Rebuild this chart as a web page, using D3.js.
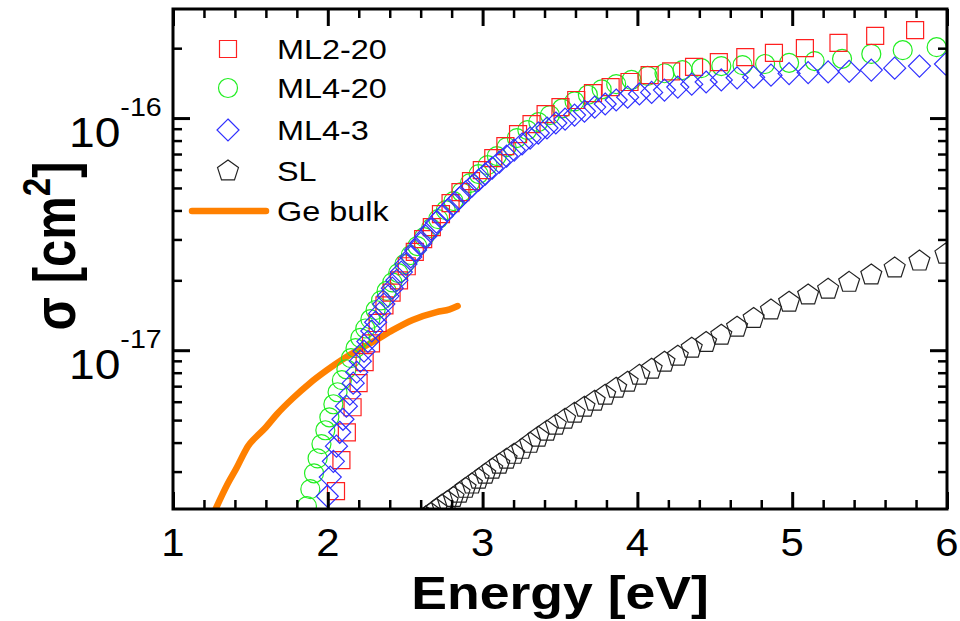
<!DOCTYPE html>
<html><head><meta charset="utf-8">
<script src="https://cdn.jsdelivr.net/npm/d3@7"></script>
<style>body{margin:0;background:#fff}svg{display:block}text{font-family:"Liberation Sans",Arial,sans-serif}</style>
</head><body><svg id="c" width="960" height="621"></svg>
<script>
// ---------- data ----------
const seriesNames = ["ML2-20","ML4-20","ML4-3","SL","Ge bulk"];
const xTickValues = [1,2,3,4,5,6];
const yTickExponents = [-17,-16];

const energyML220 = [5.794,5.536,5.299,5.082,4.882,4.697,4.526,4.366,4.218,4.079,3.949,3.827,3.713,3.605,3.503,3.407,3.316,3.229,3.147,3.069,2.995,2.925,2.857,2.793,2.731,2.672,2.616,2.562,2.510,2.460,2.412,2.366,2.322,2.279,2.238,2.199,2.160,2.123,2.088,2.053];
const sigmaML220 = [2.39e-16,2.26e-16,2.11e-16,2.00e-16,1.91e-16,1.83e-16,1.74e-16,1.66e-16,1.59e-16,1.53e-16,1.43e-16,1.36e-16,1.28e-16,1.196e-16,1.115e-16,1.04e-16,9.42e-17,8.53e-17,7.57e-17,6.72e-17,5.97e-17,5.35e-17,4.80e-17,4.30e-17,3.86e-17,3.39e-17,3.01e-17,2.65e-17,2.30e-17,2.00e-17,1.77e-17,1.56e-17,1.31e-17,1.07e-17,8.88e-18,7.21e-18,5.68e-18,4.43e-18,3.36e-18,2.47e-18];

const energyML420 = [5.933,5.714,5.511,5.322,5.145,4.980,4.825,4.679,4.542,4.413,4.291,4.175,4.066,3.962,3.863,3.769,3.680,3.594,3.513,3.435,3.360,3.289,3.221,3.155,3.092,3.032,2.974,2.918,2.864,2.812,2.762,2.713,2.667,2.622,2.578,2.536,2.495,2.455,2.417,2.380,2.344,2.309,2.275,2.242,2.210,2.179,2.149,2.120,2.091,2.063,2.036,2.010,1.984,1.959,1.934,1.911,1.887,1.865];
const sigmaML420 = [2.02e-16,1.96e-16,1.89e-16,1.80e-16,1.76e-16,1.73e-16,1.71e-16,1.69e-16,1.675e-16,1.64e-16,1.61e-16,1.56e-16,1.52e-16,1.46e-16,1.40e-16,1.33e-16,1.26e-16,1.18e-16,1.10e-16,1.03e-16,9.61e-17,8.88e-17,8.20e-17,7.50e-17,6.86e-17,6.27e-17,5.74e-17,5.25e-17,4.80e-17,4.39e-17,4.01e-17,3.67e-17,3.36e-17,3.07e-17,2.81e-17,2.57e-17,2.35e-17,2.15e-17,1.96e-17,1.80e-17,1.64e-17,1.49e-17,1.36e-17,1.24e-17,1.13e-17,1.02e-17,9.24e-18,8.28e-18,7.43e-18,6.59e-18,5.85e-18,5.14e-18,4.52e-18,3.94e-18,3.42e-18,2.95e-18,2.52e-18,2.13e-18];

const energyML43 = [5.990,5.822,5.662,5.511,5.368,5.232,5.103,4.980,4.863,4.751,4.644,4.542,4.444,4.351,4.261,4.175,4.092,4.013,3.937,3.863,3.792,3.724,3.658,3.594,3.533,3.473,3.416,3.360,3.307,3.255,3.204,3.155,3.108,3.062,3.017,2.974,2.931,2.890,2.851,2.812,2.774,2.737,2.702,2.667,2.633,2.600,2.567,2.536,2.505,2.475,2.446,2.417,2.389,2.362,2.335,2.309,2.284,2.259,2.234,2.210,2.187,2.164,2.142,2.120,2.098,2.077,2.056,2.036,2.016,1.997];
const sigmaML43 = [1.71e-16,1.675e-16,1.64e-16,1.61e-16,1.59e-16,1.58e-16,1.57e-16,1.555e-16,1.53e-16,1.50e-16,1.49e-16,1.46e-16,1.43e-16,1.40e-16,1.36e-16,1.32e-16,1.29e-16,1.27e-16,1.23e-16,1.196e-16,1.15e-16,1.115e-16,1.07e-16,1.03e-16,9.90e-17,9.52e-17,9.06e-17,8.62e-17,8.20e-17,7.73e-17,7.28e-17,6.86e-17,6.46e-17,6.09e-17,5.74e-17,5.40e-17,5.09e-17,4.80e-17,4.52e-17,4.26e-17,4.01e-17,3.78e-17,3.56e-17,3.32e-17,3.10e-17,2.89e-17,2.70e-17,2.52e-17,2.35e-17,2.17e-17,2.00e-17,1.85e-17,1.71e-17,1.58e-17,1.44e-17,1.32e-17,1.21e-17,1.09e-17,9.90e-18,8.97e-18,8.04e-18,7.21e-18,6.46e-18,5.74e-18,5.04e-18,4.43e-18,3.86e-18,3.32e-18,2.84e-18,2.35e-18];

const energySL = [5.990,5.822,5.662,5.511,5.368,5.232,5.103,4.980,4.863,4.751,4.644,4.542,4.444,4.351,4.261,4.175,4.092,4.013,3.937,3.863,3.792,3.724,3.658,3.594,3.533,3.473,3.416,3.360,3.307,3.255,3.204,3.155,3.108,3.062,3.017,2.974,2.931,2.890,2.851,2.812,2.774,2.737,2.702,2.667,2.633];
const sigmaSL = [2.59e-17,2.42e-17,2.26e-17,2.11e-17,1.96e-17,1.83e-17,1.73e-17,1.61e-17,1.49e-17,1.37e-17,1.256e-17,1.16e-17,1.08e-17,1.02e-17,9.42e-18,8.88e-18,8.28e-18,7.80e-18,7.28e-18,6.86e-18,6.40e-18,6.03e-18,5.68e-18,5.35e-18,5.04e-18,4.75e-18,4.48e-18,4.22e-18,3.97e-18,3.74e-18,3.56e-18,3.39e-18,3.23e-18,3.07e-18,2.92e-18,2.78e-18,2.65e-18,2.54e-18,2.42e-18,2.32e-18,2.23e-18,2.15e-18,2.06e-18,1.98e-18,1.91e-18];

const energyGe = [1.271,1.355,1.413,1.452,1.484,1.529,1.594,1.671,1.774,1.884,1.994,2.097,2.206,2.316,2.419,2.548,2.703,2.787,2.839];
const sigmaGe = [2.04e-18,2.67e-18,3.13e-18,3.53e-18,3.86e-18,4.18e-18,4.61e-18,5.30e-18,6.21e-18,7.21e-18,8.20e-18,9.14e-18,1.01e-17,1.11e-17,1.22e-17,1.35e-17,1.46e-17,1.50e-17,1.55e-17];

// ---------- layout ----------
const L=173, R=947, T=9, B=509;
const svg = d3.select("#c");
const x = d3.scaleLinear().domain([1,6]).range([L,R]);
const y = d3.scaleLog().domain([2.07e-18,2.95e-16]).range([B,T]);

svg.append("defs").append("clipPath").attr("id","clip")
  .append("rect").attr("x",L).attr("y",T).attr("width",R-L).attr("height",B-T);

const plot = svg.append("g").attr("clip-path","url(#clip)");

const zip = (a,b)=>a.map((v,i)=>[v,b[i]]);

// Ge bulk line
plot.append("path").datum(zip(energyGe,sigmaGe))
  .attr("d", d3.line().x(d=>x(d[0])).y(d=>y(d[1])).curve(d3.curveMonotoneX))
  .attr("fill","none").attr("stroke","#ff8000").attr("stroke-width",6.5)
  .attr("stroke-linecap","round").attr("stroke-linejoin","round");

function pentagon(r){
  const pts=[];
  for(let k=0;k<5;k++){const a=-Math.PI/2+k*2*Math.PI/5;pts.push([r*Math.cos(a),r*Math.sin(a)]);}
  return "M"+pts.map(p=>p.join(",")).join("L")+"Z";
}
const shapes = {
  square: "M-8.5,-8.5H8.5V8.5H-8.5Z",
  circle: "M9.5,0A9.5,9.5 0 1,1 -9.5,0A9.5,9.5 0 1,1 9.5,0Z",
  diamond: "M0,-11L11,0L0,11L-11,0Z",
  pentagon: pentagon(11)
};

function scatter(g, ex, sy, shape, color){
  g.selectAll(null).data(zip(ex,sy)).enter().append("path")
    .attr("d",shapes[shape])
    .attr("transform",d=>`translate(${x(d[0])},${y(d[1])})`)
    .attr("fill","none").attr("stroke",color).attr("stroke-width",1.2);
}
scatter(plot, energySL, sigmaSL, "pentagon", "#222");
scatter(plot, energyML420, sigmaML420, "circle", "#22ee22");
scatter(plot, energyML220, sigmaML220, "square", "#ff2020");
scatter(plot, energyML43, sigmaML43, "diamond", "#3030ff");

// ---------- axes ----------
const xMinor = d3.range(1,6.001,0.2).map(v=>+v.toFixed(1)).filter(v=>!xTickValues.includes(v));
const yMajor = yTickExponents.map(e=>Math.pow(10,e));
const yMinor = [];
[-18,-17,-16].forEach(e=>{for(let m=2;m<=9;m++){const v=m*Math.pow(10,e);if(v>=2.07e-18&&v<=2.95e-16)yMinor.push(v);}});

function styleAxis(g,w){g.select(".domain").remove();g.selectAll("line").attr("stroke","#000").attr("stroke-width",w);g.selectAll("text").remove();}
svg.append("g").attr("transform",`translate(0,${B})`).call(d3.axisBottom(x).tickValues(xTickValues).tickSize(-17)).call(g=>styleAxis(g,3));
svg.append("g").attr("transform",`translate(0,${B})`).call(d3.axisBottom(x).tickValues(xMinor).tickSize(-9)).call(g=>styleAxis(g,2.5));
svg.append("g").attr("transform",`translate(0,${T})`).call(d3.axisTop(x).tickValues(xTickValues).tickSize(-17)).call(g=>styleAxis(g,3));
svg.append("g").attr("transform",`translate(0,${T})`).call(d3.axisTop(x).tickValues(xMinor).tickSize(-9)).call(g=>styleAxis(g,2.5));
svg.append("g").attr("transform",`translate(${L},0)`).call(d3.axisLeft(y).tickValues(yMajor).tickSize(-17)).call(g=>styleAxis(g,3));
svg.append("g").attr("transform",`translate(${L},0)`).call(d3.axisLeft(y).tickValues(yMinor).tickSize(-9)).call(g=>styleAxis(g,2.5));
svg.append("g").attr("transform",`translate(${R},0)`).call(d3.axisRight(y).tickValues(yMajor).tickSize(-17)).call(g=>styleAxis(g,3));
svg.append("g").attr("transform",`translate(${R},0)`).call(d3.axisRight(y).tickValues(yMinor).tickSize(-9)).call(g=>styleAxis(g,2.5));

svg.append("rect").attr("x",L).attr("y",T).attr("width",R-L).attr("height",B-T)
  .attr("fill","none").attr("stroke","#000").attr("stroke-width",3);

// x tick labels
svg.selectAll(null).data(xTickValues).enter().append("text")
  .attr("transform",d=>`translate(${x(d)},556) scale(1.1,1)`)
  .attr("text-anchor","middle").attr("font-size",38).text(d=>d);

// y tick labels
yTickExponents.forEach(e=>{
  const yy=y(Math.pow(10,e));
  const t=svg.append("text").attr("transform",`translate(69,${yy+29}) scale(1.1,1)`)
    .attr("text-anchor","start").attr("font-size",42);
  t.append("tspan").text("10");
  t.append("tspan").attr("font-size",26).attr("dy",-31).text("-"+Math.abs(e));
});

// axis titles
svg.append("text").attr("transform","translate(560,609) scale(1.14,1)")
  .attr("text-anchor","middle").attr("font-size",47).attr("font-weight","bold").text("Energy [eV]");
const yt = svg.append("text").attr("transform","translate(75,246) scale(1.2,1) rotate(-90)")
  .attr("text-anchor","middle").attr("font-size",49).attr("font-weight","bold");
yt.append("tspan").text("σ [cm");
yt.append("tspan").attr("font-size",33).attr("dy",-21).text("2");
yt.append("tspan").attr("dy",21).text("]");

// legend
const legendRows = [
  {name:seriesNames[0],shape:"square",color:"#ff2020"},
  {name:seriesNames[1],shape:"circle",color:"#22ee22"},
  {name:seriesNames[2],shape:"diamond",color:"#3030ff"},
  {name:seriesNames[3],shape:"pentagon",color:"#222"},
  {name:seriesNames[4],shape:"line",color:"#ff8000"}
];
const legendY = [49,88,130,171,211];
const lg = svg.append("g");
legendRows.forEach((r,i)=>{
  const yy=legendY[i];
  if(r.shape==="line"){
    lg.append("line").attr("x1",192).attr("x2",266).attr("y1",yy).attr("y2",yy)
      .attr("stroke",r.color).attr("stroke-width",6.5).attr("stroke-linecap","round");
  } else {
    lg.append("path").attr("d",shapes[r.shape]).attr("transform",`translate(228,${yy})`)
      .attr("fill","none").attr("stroke",r.color).attr("stroke-width",1.2);
  }
  lg.append("text").attr("transform",`translate(277,${yy+10}) scale(1.2,1)`)
    .attr("font-size",27).text(r.name);
});
</script></body></html>
